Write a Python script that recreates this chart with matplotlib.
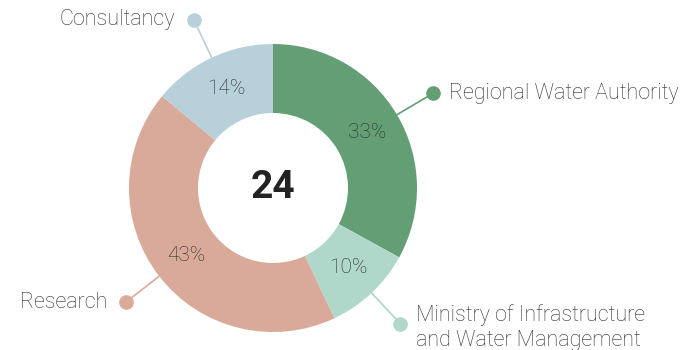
import numpy as np
import matplotlib
matplotlib.use('Agg')
import matplotlib.pyplot as plt

# Aandeel per organisatie
labels = ['Regional Water Authority', 'Ministry of Infrastructure\nand Water Management',
          'Research', 'Consultancy']
shares = [33, 10, 43, 14]
colors = ['#649e75', '#afd8ca', '#d9a999', '#b8d0da']
total = 24

plt.rcParams['font.family'] = ['Roboto', 'DejaVu Sans']

fig = plt.figure(figsize=(6.95, 3.5), dpi=100)
ax = fig.add_axes([0, 0, 1, 1])

cx, cy = 273, 162
R, w = 144, 69

wedges, _ = ax.pie(shares, colors=colors, startangle=90, counterclock=False,
                   center=(cx, cy), radius=R, frame=True,
                   wedgeprops=dict(width=w, linewidth=0))
ax.set_xlim(0, 695)
ax.set_ylim(0, 350)
ax.set_aspect('equal')
ax.axis('off')

txt = '#2e2e2e'
for wdg, lab, s, c in zip(wedges, labels, shares, colors):
    mid = np.deg2rad((wdg.theta1 + wdg.theta2) / 2)
    ux, uy = np.cos(mid), np.sin(mid)
    # percentage in het midden van de ring
    rm = R - w / 2
    ax.text(cx + rm * ux, cy + rm * uy, f'{s}%', ha='center', va='center',
            fontsize=15, color=txt, fontweight='light')
    # lijntje + stip naar het label
    r0, r1 = R, R + 42
    px, py = cx + r1 * ux, cy + r1 * uy
    ax.plot([cx + r0 * ux, px], [cy + r0 * uy, py],
            color=c, lw=1.2, solid_capstyle='butt')
    ax.plot(px, py, 'o', color=c, ms=10.5, mec='none')
    ty = py - 4 if '\n' in lab else py
    if ux >= 0:
        ax.text(px + 16, ty, lab, ha='left', va='center',
                fontsize=15.5, color=txt, fontweight='light', linespacing=1.25)
    else:
        ax.text(px - 19, ty, lab, ha='right', va='center',
                fontsize=15.5, color=txt, fontweight='light')

ax.text(cx, cy, str(total), ha='center', va='center', fontsize=28,
        fontweight='bold', color='#222222')

fig.savefig('out.png', dpi=100)
